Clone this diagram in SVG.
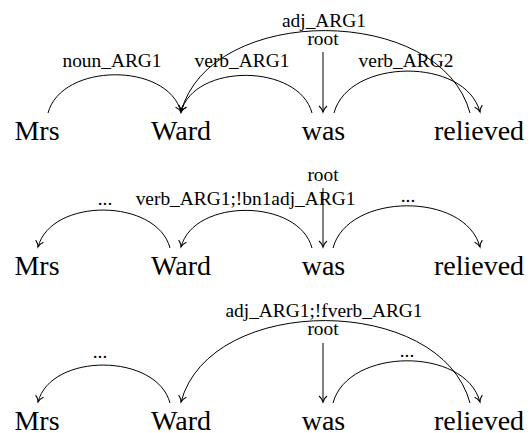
<svg xmlns="http://www.w3.org/2000/svg" width="530" height="433" viewBox="0 0 530 433">
<style>
text{font-family:'Liberation Serif','Times New Roman',Times,'DejaVu Serif',serif}
.w{font-size:28px;fill:#000;text-anchor:middle}
.l{font-size:19.4px;fill:#000;text-anchor:middle}
.e{fill:none;stroke:#000;stroke-width:1;marker-end:url(#arr)}
</style>
<defs>
<marker id="arr" viewBox="-8 -5 10 10" refX="0" refY="0" markerWidth="10" markerHeight="10" markerUnits="userSpaceOnUse" orient="auto">
<path d="M-6,-4 C-4,-1.5 -1,-0.3 0,0 C-1,0.3 -4,1.5 -6,4" fill="none" stroke="#000" stroke-width="1.1"/>
</marker>
</defs>
<rect width="530" height="433" fill="#fff"/>
<g font-family="Liberation Serif, Times New Roman, serif">
<!-- Panel 1 -->
<g id="p1-mrs"><text class="w" x="37" y="140">Mrs</text></g>
<g id="p1-ward"><text class="w" x="181" y="140">Ward</text></g>
<g id="p1-was"><text class="w" x="323.5" y="140">was</text></g>
<g id="p1-relieved"><text class="w" x="479" y="140">relieved</text></g>
<!-- Panel 2 -->
<g id="p2-mrs"><text class="w" x="37" y="275">Mrs</text></g>
<g id="p2-ward"><text class="w" x="181" y="275">Ward</text></g>
<g id="p2-was"><text class="w" x="323.5" y="275">was</text></g>
<g id="p2-relieved"><text class="w" x="479" y="275">relieved</text></g>
<!-- Panel 3 -->
<g id="p3-mrs"><text class="w" x="37" y="430">Mrs</text></g>
<g id="p3-ward"><text class="w" x="181" y="430">Ward</text></g>
<g id="p3-was"><text class="w" x="323.5" y="430">was</text></g>
<g id="p3-relieved"><text class="w" x="479" y="430">relieved</text></g>
<g id="connectors">
<!-- panel 1 -->
<g id="p1-e-noun">
<path class="e" d="M48,113 C61.4,62.7 167.6,61.7 181,112"/>
<text class="l" x="112" y="67">noun_ARG1</text>
</g>
<g id="p1-e-verb1">
<path class="e" d="M312,113 C298.8,63.5 194.2,62.5 181,112"/>
<text class="l" x="242" y="67">verb_ARG1</text>
</g>
<g id="p1-e-adj">
<path class="e" d="M470,113 C440.8,3.8 210.2,2.8 181,112"/>
<text class="l" x="324" y="27">adj_ARG1</text>
</g>
<g id="p1-e-verb2">
<path class="e" d="M334,113 C348.7,57.8 465.3,56.8 480,112"/>
<text class="l" x="406" y="67">verb_ARG2</text>
</g>
<g id="p1-e-root">
<path class="e" d="M323,52 L323,112"/>
<text class="l" x="323" y="45">root</text>
</g>
<!-- panel 2 -->
<g id="p2-e-left">
<path class="e" d="M170,248 C156.7,198.1 51.3,197.1 38,247"/>
<text class="l" x="105" y="205">...</text>
</g>
<g id="p2-e-mid">
<path class="e" d="M312,248 C298.8,198.5 194.2,197.5 181,247"/>
<text class="l" x="245.5" y="205">verb_ARG1;!bn1adj_ARG1</text>
</g>
<g id="p2-e-right">
<path class="e" d="M333,248 C347.8,192.4 465.2,191.4 480,247"/>
<text class="l" x="408" y="202">...</text>
</g>
<g id="p2-e-root">
<path class="e" d="M323,188 L323,247"/>
<text class="l" x="323" y="181">root</text>
</g>
<!-- panel 3 -->
<g id="p3-e-left">
<path class="e" d="M170,403 C156.7,353.1 51.3,352.1 38,402"/>
<text class="l" x="100" y="358">...</text>
</g>
<g id="p3-e-adj">
<path class="e" d="M470,403 C440.8,293.8 210.2,292.8 181,402"/>
<text class="l" x="324" y="317">adj_ARG1;!fverb_ARG1</text>
</g>
<g id="p3-e-right">
<path class="e" d="M333,403 C347.8,347.4 465.2,346.4 480,402"/>
<text class="l" x="407" y="357">...</text>
</g>
<g id="p3-e-root">
<path class="e" d="M323,343 L323,402"/>
<text class="l" x="323" y="335">root</text>
</g>
</g>
</g>
</svg>
